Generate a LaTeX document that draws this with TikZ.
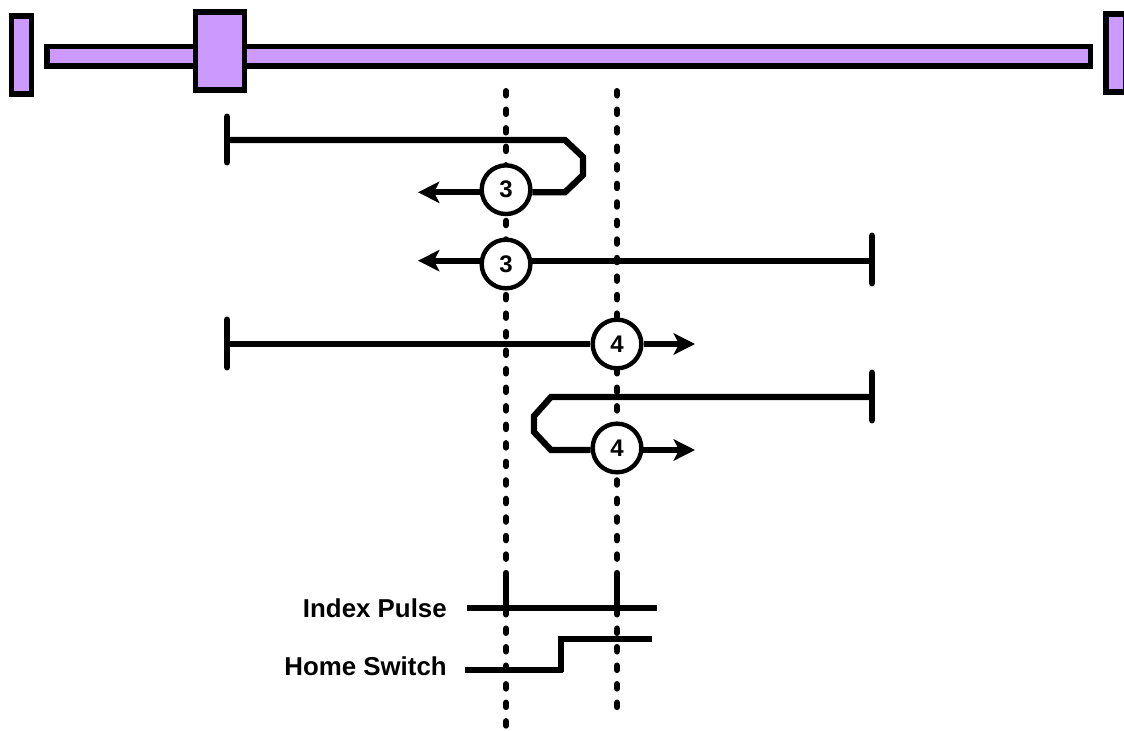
\documentclass[tikz,border=0pt]{standalone}
\usepackage{fontspec}
\setmainfont{Liberation Sans}
\usetikzlibrary{arrows.meta}
\definecolor{railpurple}{HTML}{CC99FF}
\tikzset{
  x=0.75pt,y=-0.75pt,
  railbox/.style={draw=black,fill=railpurple,line width=4.3pt,line join=miter},
  guide/.style={draw=black,line width=4.5pt,line cap=round,dash pattern=on 3.4pt off 10.5pt},
  travel/.style={draw=black,line width=4.7pt,line join=miter},
  endtick/.style={draw=black,line width=5.2pt,line cap=round},
  tip/.style={-{Stealth[length=16pt,width=16pt,inset=4pt]}},
  marker/.style={circle,draw=black,fill=white,line width=3.3pt,minimum size=36.5pt,inner sep=0pt,font=\bfseries\fontsize{18}{18}\selectfont},
  siglabel/.style={anchor=east,inner sep=0pt,font=\bfseries\fontsize{19.4}{19.4}\selectfont},
  signal/.style={draw=black,line width=4pt},
  signalheavy/.style={draw=black,line width=5.2pt},
}
\begin{document}
\begin{tikzpicture}
\useasboundingbox (0,0) rectangle (1124,731);
% rail
\draw[railbox] (47,46.5) rectangle (1090.5,66.3);
\draw[railbox] (11.5,16) rectangle (31.5,94);
\draw[railbox] (1106,14) rectangle (1126,92);
\draw[railbox] (195.5,12) rectangle (244.5,90);
% guides
\coordinate (g1t) at (506,91); \coordinate (g1b) at (506,731);
\coordinate (g2t) at (617,91); \coordinate (g2b) at (617,713);
\draw[guide] (g1t) -- (g1b);
\draw[guide] (g2t) -- (g2b);
% markers
\node[marker] (c1) at (506,189.7) {3};
\node[marker] (c2) at (506,264) {3};
\node[marker] (c3) at (617,344) {4};
\node[marker] (c4) at (617,448) {4};
% first
\coordinate (t1a) at (227,117); \coordinate (t1b) at (227,162);
\draw[endtick] (t1a) -- (t1b);
\coordinate (s1) at (227,140);
\coordinate (a1) at (418,192.3);
\draw[travel] (s1) -- (565,140) -- (583,157) -- (583,175) -- (565,192.3) -- (c1.-6 |- a1);
\draw[travel,tip] (c1.186 |- a1) -- (a1);
% second
\coordinate (t2a) at (872,236); \coordinate (t2b) at (872,283);
\draw[endtick] (t2a) -- (t2b);
\coordinate (s2) at (872,260.7);
\coordinate (a2) at (418,260.7);
\draw[travel] (s2) -- (c2.8 |- s2);
\draw[travel,tip] (c2.172 |- a2) -- (a2);
% third
\coordinate (t3a) at (227,320); \coordinate (t3b) at (227,367);
\draw[endtick] (t3a) -- (t3b);
\coordinate (s3) at (227,344);
\coordinate (a3) at (695,344);
\draw[travel] (s3) -- (c3.west);
\draw[travel,tip] (c3.east) -- (a3);
% fourth
\coordinate (t4a) at (872,373); \coordinate (t4b) at (872,420);
\draw[endtick] (t4a) -- (t4b);
\coordinate (s4) at (872,397);
\coordinate (a4) at (695,450);
\draw[travel] (s4) -- (551,397) -- (534,416) -- (534,432) -- (551,450) -- (c4.185 |- a4);
\draw[travel,tip] (c4.-5 |- a4) -- (a4);
% signals
\node[siglabel] (lblI) at (447,608) {Index Pulse};
\node[siglabel] (lblH) at (447,666) {Home Switch};
\coordinate (i0) at (467,608); \coordinate (i1) at (657,608);
\draw[signal] (i0) -- (i1);
\coordinate (p1) at (506,576); \coordinate (p1b) at (506,608);
\coordinate (p2) at (617,576); \coordinate (p2b) at (617,608);
\draw[signalheavy] (p1) -- (p1b);
\draw[signalheavy] (p2) -- (p2b);
\coordinate (h0) at (465,670); \coordinate (h1) at (652,639);
\draw[signalheavy] (h0) -- (563,670);
\draw[signal] (561,672) -- (561,639) -- (h1);
\end{tikzpicture}
\end{document}
